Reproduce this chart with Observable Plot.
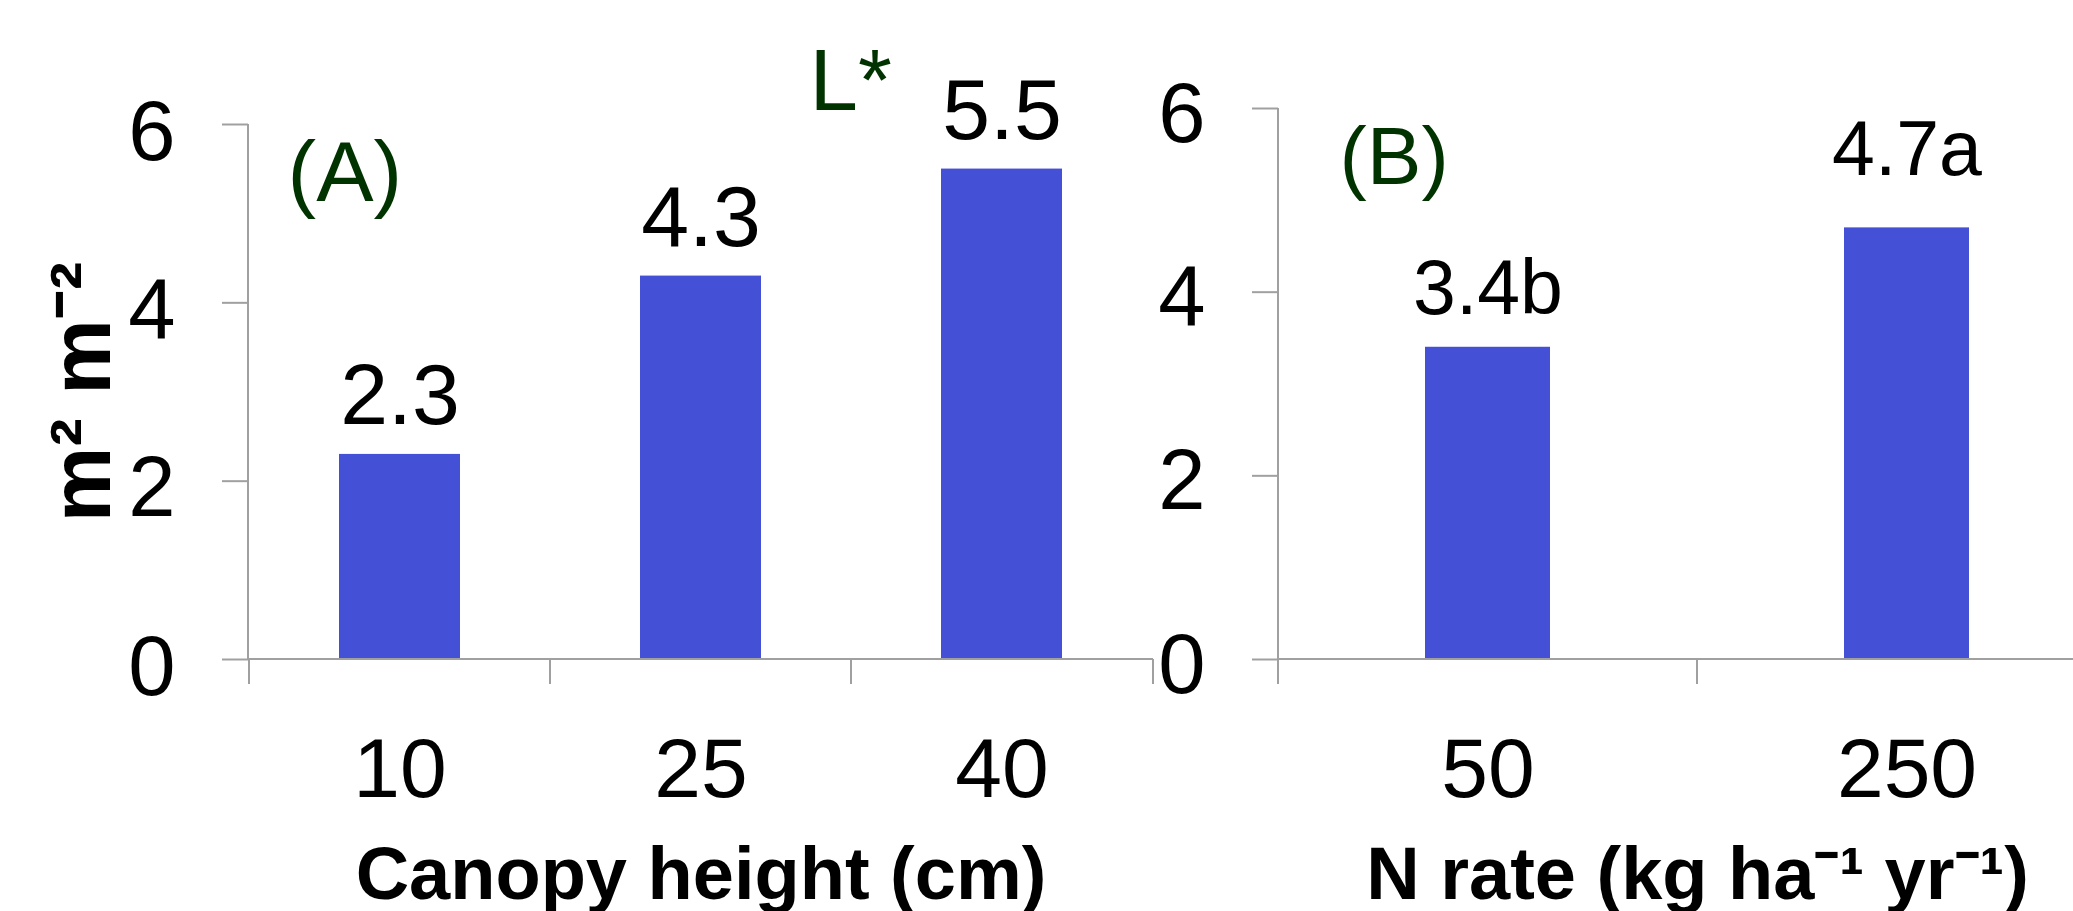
<!DOCTYPE html>
<html><head><meta charset="utf-8">
<script src="https://cdn.jsdelivr.net/npm/d3@7"></script>
<script src="https://cdn.jsdelivr.net/npm/@observablehq/plot@0.6"></script>
<style>
html,body{margin:0;padding:0;background:#fff;overflow:hidden}
#wrap{position:relative;width:2073px;height:911px;overflow:hidden;background:#fff}
#wrap svg{position:absolute;top:0}
</style></head><body><div id="wrap"></div>
<script>
// ---- data ----
const canopyHeights = ["10", "25", "40"];
const laiA = [2.3, 4.3, 5.5];
const labelsA = ["2.3", "4.3", "5.5"];
const nRates = ["50", "250"];
const laiB = [3.4, 4.7];
const labelsB = ["3.4b", "4.7a"];
const yTicks = [0, 2, 4, 6];
const yTitle = "m² m⁻²";
const xTitleA = "Canopy height (cm)";
const xTitleB = "N rate (kg ha⁻¹ yr⁻¹)";
const tagA = "(A)";
const tagB = "(B)";
const sigA = "L*";

const dataA = canopyHeights.map((c, i) => ({cat: c, value: laiA[i], label: labelsA[i]}));
const dataB = nRates.map((c, i) => ({cat: c, value: laiB[i], label: labelsB[i]}));

const FONT = "'Liberation Sans', Arial, Helvetica, sans-serif";
const BLUE = "#4450d6", GREEN = "#003300", GRAY = "#a0a0a0";
const fmt = d => String(d);

function axisFrame(index, scales, values, dims) {
  const {x, y} = scales;
  const g = d3.create("svg:g").attr("stroke", GRAY).attr("stroke-width", 2).attr("fill", "none");
  const left = dims.marginLeft, right = dims.width - dims.marginRight;
  const y0 = y(0), yTop = y(yTicks[yTicks.length - 1]);
  g.append("line").attr("x1", left).attr("x2", left).attr("y1", yTop).attr("y2", y0);
  g.append("line").attr("x1", left).attr("x2", right).attr("y1", y0).attr("y2", y0);
  const edges = x.domain().map(d => x(d)).concat([right]);
  for (const e of edges) g.append("line").attr("x1", e).attr("x2", e).attr("y1", y0).attr("y2", y0 + 25);
  return g.node();
}

const styleOpts = {fontFamily: FONT, background: "transparent", overflow: "visible"};

const chartA = Plot.plot({
  width: 1160, height: 911,
  marginLeft: 248, marginRight: 7, marginTop: 124, marginBottom: 252,
  style: styleOpts,
  x: {type: "band", domain: canopyHeights, padding: 0},
  y: {domain: [0, 6]},
  marks: [
    Plot.barY(dataA, {x: "cat", y: "value", fill: BLUE, insetLeft: 90, insetRight: 90}),
    axisFrame,
    Plot.axisY(yTicks, {tickSize: 26, stroke: GRAY, strokeWidth: 2, fill: "none", label: null}),
    Plot.axisY(yTicks, {tickSize: 26, tickPadding: 47, tickFormat: fmt, stroke: "none", fill: "black", fontSize: 85, dy: 8, label: null}),
    Plot.axisX({tickSize: 0, tickPadding: 78, fontSize: 84, fill: "black", label: null}),
    Plot.text(dataA, {x: "cat", y: "value", text: "label", dy: -30, lineAnchor: "bottom", fontSize: 86, fill: "black"}),
    Plot.text([yTitle], {text: d => d, frameAnchor: "left", textAnchor: "middle", rotate: -90, dx: -139, lineAnchor: "bottom", fontSize: 85, fontWeight: "bold", fill: "black"}),
    Plot.text([xTitleA], {text: d => d, frameAnchor: "bottom", textAnchor: "middle", dy: 239, lineAnchor: "bottom", fontSize: 74, fontWeight: "bold", fill: "black"}),
    Plot.text([tagA], {text: d => d, frameAnchor: "top-left", textAnchor: "start", lineAnchor: "bottom", dx: 39, dy: 76, fontSize: 86, fill: GREEN}),
    Plot.text([sigA], {text: d => d, frameAnchor: "top-left", textAnchor: "start", lineAnchor: "bottom", dx: 561, dy: -15, fontSize: 87, fill: GREEN})
  ]
});

const chartB = Plot.plot({
  width: 1016, height: 911,
  marginLeft: 178, marginRight: 0, marginTop: 108, marginBottom: 252,
  style: styleOpts,
  x: {type: "band", domain: nRates, padding: 0},
  y: {domain: [0, 6]},
  marks: [
    Plot.barY(dataB, {x: "cat", y: "value", fill: BLUE, insetLeft: 147, insetRight: 147}),
    axisFrame,
    Plot.axisY(yTicks, {tickSize: 26, stroke: GRAY, strokeWidth: 2, fill: "none", label: null}),
    Plot.axisY(yTicks, {tickSize: 26, tickPadding: 47, tickFormat: fmt, stroke: "none", fill: "black", fontSize: 85, dy: 6, label: null}),
    Plot.axisX({tickSize: 0, tickPadding: 78, fontSize: 84, fill: "black", label: null}),
    Plot.text(dataB, {filter: (d, i) => i === 0, x: "cat", y: "value", text: "label", dy: -33, lineAnchor: "bottom", fontSize: 77, fill: "black"}),
    Plot.text(dataB, {filter: (d, i) => i === 1, x: "cat", y: "value", text: "label", dy: -53, lineAnchor: "bottom", fontSize: 77, fill: "black"}),
    Plot.text([xTitleB], {text: d => d, frameAnchor: "bottom", textAnchor: "middle", dy: 239, lineAnchor: "bottom", fontSize: 74, fontWeight: "bold", fill: "black"}),
    Plot.text([tagB], {text: d => d, frameAnchor: "top-left", textAnchor: "start", lineAnchor: "bottom", dx: 61, dy: 75, fontSize: 82, fill: GREEN})
  ]
});

const wrap = document.getElementById("wrap");
chartA.style.left = "0px";
chartB.style.left = "1100px";
wrap.appendChild(chartA);
wrap.appendChild(chartB);
</script>
</body></html>
